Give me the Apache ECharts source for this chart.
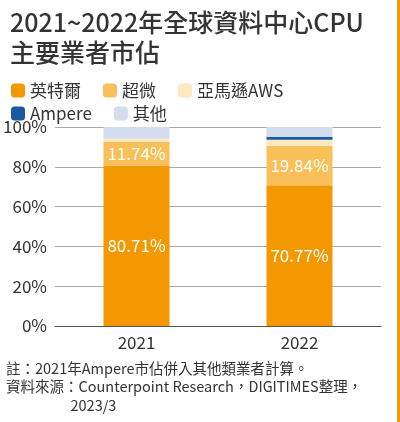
<!DOCTYPE html>
<html><head><meta charset="utf-8">
<script src="https://cdn.jsdelivr.net/npm/echarts@6/dist/echarts.min.js"></script>
<style>html,body{margin:0;padding:0;background:#fff}#c{width:400px;height:422px}</style>
</head><body><div id="c"></div>
<script>
var years = ['2021', '2022'];
var intel = [80.71, 70.77];
var amd = [11.74, 19.84];
var aws = [1.6, 3.0];
var ampere = [0, 1.5];
var others = [5.95, 4.89];

var chart = echarts.init(document.getElementById('c'));
var font = '"Noto Sans CJK TC", "Noto Sans", sans-serif';
function lbl(show) {
    return {show: show, color: '#fff', fontSize: 17, fontFamily: font,
        formatter: function (p) { return p.value.toFixed(2) + '%'; }};
}
var option = {
    backgroundColor: '#fff',
    animation: false,
    title: {
        text: '2021~2022年全球資料中心CPU\n主要業者市佔',
        left: 5, top: 2,
        textStyle: {fontSize: 25, fontWeight: 500, color: '#333', lineHeight: 30, fontFamily: font}
    },
    legend: [{
        data: ['英特爾', '超微', '亞馬遜AWS'],
        left: 6, top: 77, itemWidth: 14, itemHeight: 14, itemGap: 22,
        textStyle: {fontSize: 17, color: '#333', fontFamily: font}
    }, {
        data: ['Ampere', '其他'],
        left: 6, top: 100, itemWidth: 14, itemHeight: 14, itemGap: 22,
        textStyle: {fontSize: 17, color: '#333', fontFamily: font}
    }],
    grid: {left: 55, right: 19, top: 127, bottom: 96},
    xAxis: {
        type: 'category', data: years,
        axisLine: {lineStyle: {color: '#555'}}, axisTick: {show: false},
        axisLabel: {fontSize: 17, color: '#333', fontFamily: font, margin: 8}
    },
    yAxis: {
        type: 'value', min: 0, max: 100, interval: 20,
        axisLabel: {formatter: '{value}%', fontSize: 17, color: '#333', fontFamily: font},
        splitLine: {lineStyle: {color: '#aaa'}}
    },
    series: [
        {name: '英特爾', type: 'bar', stack: 's', barWidth: 66, data: intel, itemStyle: {color: '#f39800'}, label: lbl(true)},
        {name: '超微', type: 'bar', stack: 's', data: amd, itemStyle: {color: '#f9c05a'}, label: lbl(true)},
        {name: '亞馬遜AWS', type: 'bar', stack: 's', data: aws, itemStyle: {color: '#fde8c0'}},
        {name: 'Ampere', type: 'bar', stack: 's', data: ampere, itemStyle: {color: '#1a5a9e'}},
        {name: '其他', type: 'bar', stack: 's', data: others, itemStyle: {color: '#d4ddef'}}
    ],
    graphic: [
        {type: 'rect', right: 0, top: 0, shape: {width: 3, height: 422}, style: {fill: '#f39800'}},
        {type: 'text', left: 6, top: 359, style: {text: '註：2021年Ampere市佔併入其他類業者計算。\n資料來源：Counterpoint Research，DIGITIMES整理，\n　　　　  2023/3', fontSize: 14.5, lineHeight: 18.5, fill: '#333', fontFamily: font}}
    ]
};
chart.setOption(option);
</script></body></html>
